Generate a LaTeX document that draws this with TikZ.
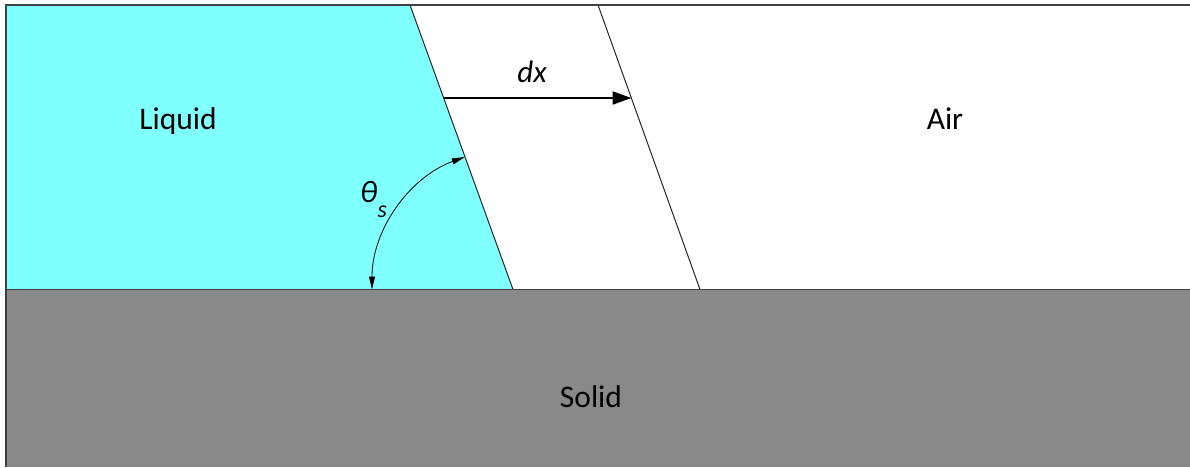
\documentclass[tikz,border=0pt]{standalone}
\usepackage{fontspec}
\setmainfont{Carlito}
\usetikzlibrary{arrows.meta}
\definecolor{liquidc}{HTML}{80FFFF}
\definecolor{solidc}{HTML}{898989}
\definecolor{framec}{HTML}{404040}
\begin{document}
\begin{tikzpicture}[x=1pt,y=-1pt,
  lbl/.style={font=\fontsize{31.5}{36}\selectfont, inner sep=0pt, anchor=base},
  frame/.style={draw=framec, line width=1.6pt},
  iface/.style={draw=black!85, line width=1pt},
  dxarrow/.style={line width=2pt, -{Triangle[length=19pt,width=13pt]}},
  anglearc/.style={line width=0.8pt, {Triangle[length=13pt,width=6pt]}-{Triangle[length=13pt,width=6pt]}}]
\useasboundingbox (0,0) rectangle (1190,467);
% regions
\fill[liquidc] (6,5) -- (410,5) -- (513,289.5) -- (6,289.5) -- cycle;
\fill[solidc] (6,289.5) rectangle (1190,467);
% interfaces
\coordinate (L1) at (410,5);
\coordinate (L2) at (513,289.5);
\coordinate (A1) at (598,5);
\coordinate (A2) at (700,289.5);
\draw[iface] (L1) -- (L2);
\draw[iface] (A1) -- (A2);
% frame and solid surface
\coordinate (F1) at (6,467);
\coordinate (F2) at (6,5);
\coordinate (F3) at (1190,5);
\coordinate (S1) at (6,289.5);
\coordinate (S2) at (1190,289.5);
\draw[frame] (F1) -- (F2) -- (F3);
\draw[frame] (S1) -- (S2);
% dx arrow
\coordinate (D1) at (443.5,98);
\coordinate (D2) at (631.5,98);
\draw[dxarrow] (D1) -- (D2);
% contact angle arc
\coordinate (T1) at (372,289.5);
\draw[anglearc] (T1) arc[start angle=180, end angle=250, radius=141];
% labels
\node[lbl] (liquid) at (178,129) {Liquid};
\node[lbl] (air) at (945,129) {Air};
\node[lbl] (solid) at (591,407) {Solid};
\node[lbl, font=\fontsize{31}{36}\selectfont] (dx) at (532,82) {\itshape dx};
\node[lbl, anchor=base west, font=\fontsize{31}{36}\selectfont] (theta) at (360,202) {\itshape θ\raisebox{-15pt}{\fontsize{24}{28}\selectfont s}};
\end{tikzpicture}
\end{document}
